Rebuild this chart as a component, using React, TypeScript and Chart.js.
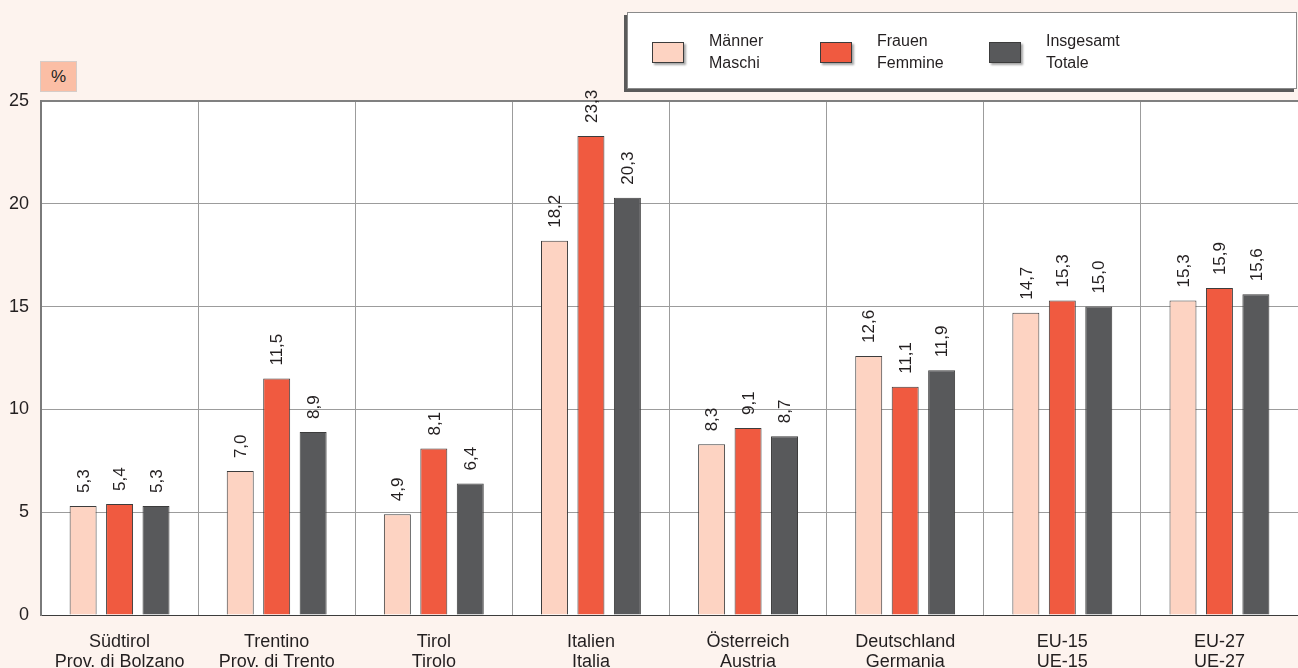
import React, { useEffect, useRef } from "react";
import { Chart, registerables } from "chart.js";

Chart.register(...registerables);

const categories: string[][] = [
  ["Südtirol", "Prov. di Bolzano"],
  ["Trentino", "Prov. di Trento"],
  ["Tirol", "Tirolo"],
  ["Italien", "Italia"],
  ["Österreich", "Austria"],
  ["Deutschland", "Germania"],
  ["EU-15", "UE-15"],
  ["EU-27", "UE-27"],
];
const maenner: number[] = [5.3, 7.0, 4.9, 18.2, 8.3, 12.6, 14.7, 15.3];
const frauen: number[] = [5.4, 11.5, 8.1, 23.3, 9.1, 11.1, 15.3, 15.9];
const insgesamt: number[] = [5.3, 8.9, 6.4, 20.3, 8.7, 11.9, 15.0, 15.6];
const seriesNames: string[][] = [
  ["Männer", "Maschi"],
  ["Frauen", "Femmine"],
  ["Insgesamt", "Totale"],
];
const colors = ["#fdd3c2", "#f05a40", "#58595b"];
const FONT = "'Liberation Sans', Arial, sans-serif";

const whiteArea = {
  id: "whiteArea",
  beforeDatasetsDraw(chart: any) {},
  beforeDraw(chart: any) {
    const { ctx, chartArea } = chart;
    if (!chartArea) return;
    ctx.save();
    ctx.globalCompositeOperation = "destination-over";
    ctx.fillStyle = "#ffffff";
    ctx.fillRect(chartArea.left, chartArea.top, chartArea.right - chartArea.left, chartArea.bottom - chartArea.top);
    ctx.restore();
  },
};

const valueLabels = {
  id: "valueLabels",
  afterDatasetsDraw(chart: any) {
    const ctx = chart.ctx;
    ctx.save();
    ctx.font = `17px ${FONT}`;
    ctx.fillStyle = "#231f20";
    ctx.textAlign = "left";
    ctx.textBaseline = "middle";
    chart.data.datasets.forEach((ds: any, di: number) => {
      const meta = chart.getDatasetMeta(di);
      meta.data.forEach((bar: any, i: number) => {
        const v = ds.data[i] as number;
        const txt = v.toFixed(1).replace(".", ",");
        ctx.save();
        ctx.translate(bar.x + 1, bar.y - 13);
        ctx.rotate(-Math.PI / 2);
        ctx.fillText(txt, 0, 0);
        ctx.restore();
      });
    });
    ctx.restore();
  },
};

export default function App() {
  const ref = useRef<HTMLCanvasElement | null>(null);
  useEffect(() => {
    document.body.style.margin = "0";
    if (!ref.current) return;
    const chart = new Chart(ref.current, {
      type: "bar",
      data: {
        labels: categories,
        datasets: [maenner, frauen, insgesamt].map((d, i) => ({
          label: seriesNames[i].join(" / "),
          data: d,
          backgroundColor: colors[i],
          borderColor: "#3c3c3c",
          borderWidth: 1,
          borderSkipped: "bottom",
          categoryPercentage: 0.696,
          barPercentage: 0.74,
        })),
      },
      options: {
        animation: false,
        responsive: true,
        maintainAspectRatio: false,
        layout: { padding: { top: 101, right: 0, left: 0, bottom: 0 } },
        plugins: { legend: { display: false }, tooltip: { enabled: false } },
        scales: {
          x: {
            grid: { offset: true, color: "#9c9c9c", drawTicks: false, lineWidth: 1 },
            border: { color: "#3c3c3c", width: 1 },
            ticks: { font: { size: 18, family: FONT, lineHeight: 1.1 }, color: "#231f20", padding: 17, maxRotation: 0, autoSkip: false },
            afterFit: (s: any) => { s.height = 53; },
          },
          y: {
            min: 0,
            max: 25,
            ticks: { stepSize: 5, font: { size: 18, family: FONT }, color: "#231f20", padding: 12 },
            grid: {
              drawTicks: false,
              color: (c: any) => (c.tick && c.tick.value === 25 ? "#808080" : "#9c9c9c"),
              lineWidth: (c: any) => (c.tick && c.tick.value === 25 ? 2 : 1),
            },
            border: { color: "#7a7a7a", width: 2 },
            afterFit: (s: any) => { s.width = 41; },
          },
        },
      },
      plugins: [whiteArea, valueLabels],
    });
    return () => chart.destroy();
  }, []);

  const legendItem = (i: number, left: number) => (
    <div key={i} style={{ position: "absolute", left, top: 17, display: "flex", alignItems: "center" }}>
      <div style={{ width: 30, height: 19, background: colors[i], border: "1px solid #3c3c3c", boxShadow: "2px 2px 2px rgba(0,0,0,0.35)", marginRight: 25 }} />
      <div style={{ fontSize: 16, lineHeight: "22px", color: "#231f20" }}>
        {seriesNames[i][0]}
        <br />
        {seriesNames[i][1]}
      </div>
    </div>
  );

  return (
    <div style={{ position: "absolute", left: 0, top: 0, width: 1298, height: 668, background: "#fdf3ee", fontFamily: FONT, overflow: "hidden" }}>
      <div style={{ position: "absolute", left: 41, top: 101, width: 1257, height: 514, background: "#ffffff" }} />
      <div style={{ position: "absolute", left: 0, top: 0, width: 1298, height: 668 }}>
        <canvas ref={ref} />
      </div>
      <div style={{ position: "absolute", left: 40, top: 61, width: 37, height: 31, background: "#fbbea5", border: "1px solid #d6ccc8", fontSize: 17, color: "#231f20", display: "flex", alignItems: "center", justifyContent: "center", boxSizing: "border-box" }}>%</div>
      <div style={{ position: "absolute", left: 627, top: 12, width: 670, height: 77, background: "#ffffff", border: "1px solid #8a8a8a", boxShadow: "-3px 3px 0 #5a5a5a", boxSizing: "border-box" }}>
        {legendItem(0, 24)}
        {legendItem(1, 192)}
        {legendItem(2, 361)}
      </div>
    </div>
  );
}
